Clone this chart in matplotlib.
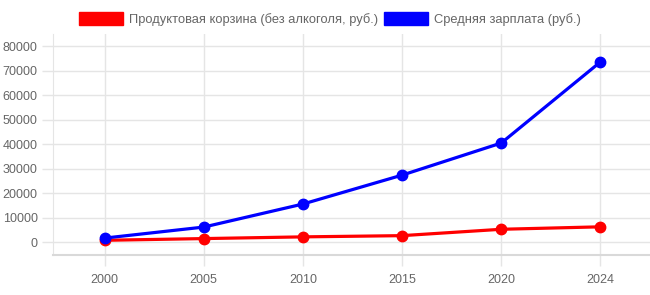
import matplotlib.pyplot as plt
from matplotlib.patches import Patch

# data
years = ['2000', '2005', '2010', '2015', '2020', '2024']
basket = [700, 1400, 2100, 2600, 5200, 6200]       # Продуктовая корзина
salary = [1600, 6100, 15500, 27300, 40400, 73500]  # Средняя зарплата

plt.rcParams['font.family'] = ['Liberation Sans', 'DejaVu Sans']
text_col = '#666666'
grid_col = '#e5e5e5'

W, H = 650, 295
fig = plt.figure(figsize=(W / 100, H / 100), dpi=100)
ax = fig.add_axes([53 / W, 1 - 255 / H, (650 - 53) / W, (255 - 34) / H])

x = list(range(len(years)))
ax.plot(x, basket, color='red', lw=2.3, marker='o', ms=7.5, zorder=3)
ax.plot(x, salary, color='blue', lw=2.3, marker='o', ms=7.5, zorder=3)

ax.set_xlim(-0.52, 5.5)
ax.set_ylim(-5300, 84900)
ax.set_xticks(x)
ax.set_xticklabels(years)
ax.set_yticks(range(0, 80001, 10000))

ax.grid(True, color=grid_col, lw=1)
ax.set_axisbelow(True)
for side in ['top', 'right']:
    ax.spines[side].set_visible(False)
ax.spines['left'].set_color(grid_col)
ax.spines['bottom'].set_color('#d9d9d9')
ax.spines['bottom'].set_linewidth(1.5)
ax.tick_params(colors=grid_col, labelcolor=text_col, labelsize=9, length=8, width=1, pad=3)
ax.tick_params(axis='x', pad=6)

handles = [Patch(facecolor='red', edgecolor='red'), Patch(facecolor='blue', edgecolor='blue')]
labels = ['Продуктовая корзина (без алкоголя, руб.)', 'Средняя зарплата (руб.)']
fig.legend(handles, labels, loc='center', bbox_to_anchor=(329.5 / W, 1 - 19 / H), ncol=2,
           frameon=False, fontsize=9.25, labelcolor=text_col, handlelength=3.5,
           handleheight=1.17, handletextpad=0.4, columnspacing=0.45)

fig.savefig('out.png', dpi=100)
